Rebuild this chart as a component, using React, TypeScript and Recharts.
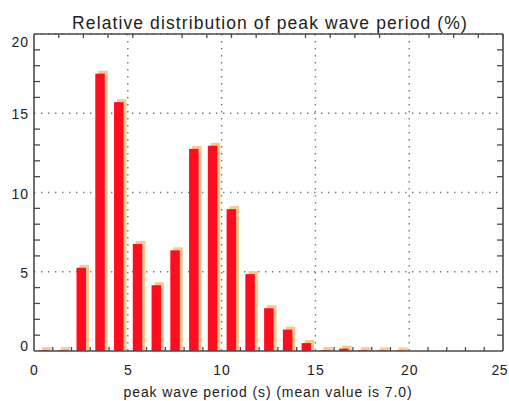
import React from "react";
import { ComposedChart, Bar, XAxis, YAxis, CartesianGrid } from "recharts";

const periods = [0.5, 1.5, 2.5, 3.5, 4.5, 5.5, 6.5, 7.5, 8.5, 9.5, 10.5, 11.5, 12.5, 13.5, 14.5, 15.5, 16.5, 17.5, 18.5, 19.5];
const percent = [0.05, 0.05, 5.25, 17.5, 15.7, 6.75, 4.15, 6.35, 12.75, 12.95, 8.95, 4.85, 2.7, 1.35, 0.5, 0.05, 0.15, 0.05, 0.03, 0.03];
const xTicks = Array.from({ length: 26 }, (_, i) => i);
const yTicks = Array.from({ length: 21 }, (_, i) => i);
const gridX = [5, 10, 15, 20];
const gridY = [5, 10, 15, 20];
const title = "Relative distribution of peak wave period (%)";
const xTitle = "peak wave period (s) (mean value is 7.0)";

const data = periods.map((p, i) => ({ period: p, value: percent[i] }));

const FONT = "'Liberation Sans', Arial, Helvetica, sans-serif";
const TXT = "#222";
const AX = "#4a4a4a";

const ShadowBar = (props: any) => {
  const { x, y, width, height } = props;
  if (x == null || y == null) return null;
  const base = y + height;
  return (
    <g>
      <rect x={x + 3} y={y - 3} width={width} height={base - (y - 3)} fill="#ffc68c" />
      <rect x={x} y={y} width={width} height={height} fill="#ff0d1f" />
    </g>
  );
};

const BottomTick = (props: any) => {
  const { x, y, payload } = props;
  const v = payload.value;
  if (v % 5 !== 0) {
    return <line x1={x} x2={x} y1={y} y2={y - 4} stroke={AX} strokeWidth={1.3} />;
  }
  const last = v === 25;
  return (
    <text
      x={last ? x + 5 : x + 0.5}
      y={y + 24}
      textAnchor={last ? "end" : "middle"}
      fontSize={14}
      fontFamily={FONT}
      fill={TXT}
      letterSpacing={last ? 0.5 : 1}
    >
      {v}
    </text>
  );
};

const TopTick = (props: any) => {
  const { x, y, payload } = props;
  const v = payload.value;
  if (v % 5 === 0) return null;
  return <line x1={x} x2={x} y1={y} y2={y + 4} stroke={AX} strokeWidth={1.3} />;
};

const LeftTick = (props: any) => {
  const { x, y, payload } = props;
  const v = payload.value;
  if (v % 5 !== 0) {
    return <line x1={x} x2={x + 6} y1={y} y2={y} stroke={AX} strokeWidth={1.3} />;
  }
  const dy = v === 0 ? -5 : v === 20 ? 8 : 1;
  return (
    <text x={x - 5} y={y + dy} dy="0.36em" textAnchor="end" fontSize={14} fontFamily={FONT} fill={TXT} letterSpacing={1}>
      {v}
    </text>
  );
};

const RightTick = (props: any) => {
  const { x, y, payload } = props;
  const v = payload.value;
  if (v % 5 === 0) return null;
  return <line x1={x} x2={x - 6} y1={y} y2={y} stroke={AX} strokeWidth={1.3} />;
};

export default function App() {
  return (
    <div style={{ position: "absolute", left: 0, top: 0, width: 509, height: 401, background: "#fff" }}>
      <ComposedChart
        width={509}
        height={401}
        data={data}
        margin={{ top: 33, right: 5, bottom: 49, left: 33 }}
      >
        <CartesianGrid
          xAxisId="b"
          yAxisId="l"
          horizontalValues={gridY}
          verticalValues={gridX}
          stroke="#777"
          strokeWidth={1.4}
          strokeDasharray="1.4 5.6"
        />
        <XAxis
          xAxisId="b"
          dataKey="period"
          type="number"
          domain={[0, 25]}
          ticks={xTicks}
          interval={0}
          height={1}
          tickSize={0}
          tickMargin={0}
          tickLine={false}
          axisLine={{ stroke: AX, strokeWidth: 1.6 }}
          tick={BottomTick}
          allowDataOverflow
        />
        <XAxis
          xAxisId="t"
          orientation="top"
          type="number"
          domain={[0, 25]}
          ticks={xTicks}
          interval={0}
          height={1}
          tickSize={0}
          tickMargin={0}
          tickLine={false}
          axisLine={{ stroke: AX, strokeWidth: 1.6 }}
          tick={TopTick}
          allowDataOverflow
        />
        <YAxis
          yAxisId="l"
          type="number"
          domain={[0, 20]}
          ticks={yTicks}
          interval={0}
          width={1}
          tickSize={0}
          tickMargin={0}
          tickLine={false}
          axisLine={{ stroke: AX, strokeWidth: 1.6 }}
          tick={LeftTick}
          allowDataOverflow
        />
        <YAxis
          yAxisId="r"
          orientation="right"
          type="number"
          domain={[0, 20]}
          ticks={yTicks}
          interval={0}
          width={1}
          tickSize={0}
          tickMargin={0}
          tickLine={false}
          axisLine={{ stroke: AX, strokeWidth: 1.6 }}
          tick={RightTick}
          allowDataOverflow
        />
        <Bar
          xAxisId="b"
          yAxisId="l"
          dataKey="value"
          barSize={9.5}
          shape={ShadowBar}
          isAnimationActive={false}
        />
      </ComposedChart>
      <svg width={509} height={401} style={{ position: "absolute", left: 0, top: 0, pointerEvents: "none" }}>
        <text x={270} y={28.5} textAnchor="middle" fontSize={17.5} fontFamily={FONT} fill={TXT} letterSpacing={1.1}>
          {title}
        </text>
        <text x={268} y={397} textAnchor="middle" fontSize={14} fontFamily={FONT} fill={TXT} letterSpacing={0.9}>
          {xTitle}
        </text>
      </svg>
    </div>
  );
}
